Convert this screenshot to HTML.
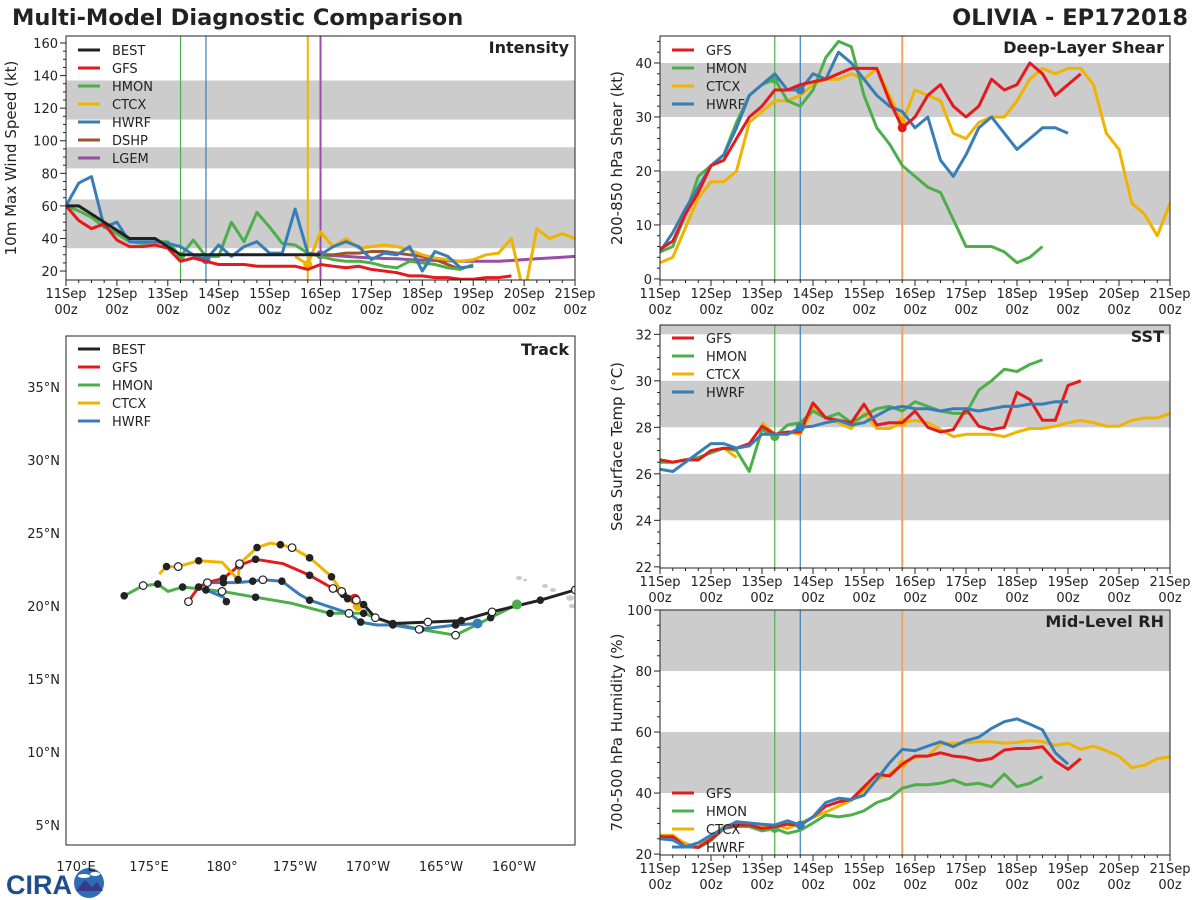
<!DOCTYPE html>
<html><head><meta charset="utf-8">
<style>
html,body{margin:0;padding:0;background:#fff;}
svg{display:block;font-family:"DejaVu Sans","Liberation Sans",sans-serif;}
</style></head>
<body>
<svg id="chart" width="1200" height="900" viewBox="0 0 1200 900" xmlns="http://www.w3.org/2000/svg">
<text x="12" y="25" font-size="22.5" font-weight="bold" fill="#222">Multi-Model Diagnostic Comparison</text>
<text x="1188" y="25" font-size="22.5" font-weight="bold" fill="#222" text-anchor="end">OLIVIA - EP172018</text>
<g>
<text x="6" y="894" font-size="27" font-weight="bold" fill="#1f4e8c" font-family="Liberation Sans, sans-serif">CIRA</text>
<circle cx="89" cy="883" r="15" fill="#2d6db5"></circle>
<path d="M76 891 L85 880 L92 887 L97 882 L103 891 Z" fill="#3a3a8a"></path>
<ellipse cx="84" cy="876" rx="6" ry="2" fill="#fff"></ellipse>
<ellipse cx="95" cy="874" rx="5" ry="2" fill="#fff"></ellipse>
</g>
</svg>
<script>
// ---------- shared ----------
const dayLabels = ['11Sep','12Sep','13Sep','14Sep','15Sep','16Sep','17Sep','18Sep','19Sep','20Sep','21Sep'];
const initTimes = [2.25, 2.75, 4.75, 5.0]; // HMON, HWRF, CTCX, LGEM init (days)

// ---------- intensity (kt), 6-hourly ----------
const intBestStart = 0;
const intBest = [60,60,55,50,45,40,40,40,35,30,30,30,30,30,30,30,30,30,30,30,30];
const intGfsStart = 0;
const intGfs = [60,51,46,49,39,35,35,36,34,26,28,26,24,24,24,23,23,23,23,21,24,23,22,23,21,20,19,17,17,16,16,15,15,16,16,17];
const intHmonStart = 0;
const intHmon = [60,57,53,47,43,38,37,38,38,29,39,29,29,50,38,56,47,37,36,31,29,27,26,26,25,23,22,26,25,24,22,21,24];
const intHwrfStart = 0;
const intHwrf = [60,74,78,47,50,38,38,38,37,35,30,27,36,29,35,38,31,31,58,31,30,35,38,35,27,31,30,35,20,32,29,22,23];
const intCtcxStart = 18;
const intCtcx = [29,24,44,35,40,34,35,36,35,33,30,28,27,26,27,30,31,40,5,46,40,43,40];
const intDshpStart = 20;
const intDshp = [30,30,31,31,32,32,31,30,29,27,24,21];
const intLgemStart = 20;
const intLgem = [30,29.5,29,28.5,28,27.7,27.5,27,26.8,26.5,26.3,26,26,26,26,26.5,27,27.5,28,28.5,29];

// ---------- shear (kt) ----------
const shGfs = [5.5,7,12,16,21,22,26,30,32,35,35,36,36.5,37,38,39,39,39,33,28,30,34,36,32,30,32,37,35,36,40,38,34,36,38];
const shHmon = [5,6,12,19,21,23,29,34,36,37,33,32,35,41,44,43,34,28,25,21,19,17,16,11,6,6,6,5,3,4,6];
const shCtcx = [3,4,9.5,15,18,18,20,29,31,33,33,34,36,37,37,38,37,39,34,29,35,34,33,27,26,29,30,30,33,37,39,38,39,39,36,27,24,14,12,8,14];
const shHwrf = [5,8.6,13,17,21,23,28,34,36,38,35,35,38,37,42,40,37,34,32,31,28,30,22,19,23,28,30,27,24,26,28,28,27];

// ---------- SST (C) ----------
const sstGfs = [26.6,26.5,26.6,26.6,27.0,27.1,27.1,27.3,28.05,27.7,27.8,27.8,29.05,28.4,28.3,28.2,29.0,28.1,28.2,28.2,28.7,28.0,27.8,27.9,28.8,28.05,27.9,28.0,29.5,29.2,28.3,28.3,29.8,30.0];
const sstHmon = [26.5,26.5,26.6,26.7,26.9,27.1,27.0,26.1,27.9,27.6,28.1,28.2,28.7,28.4,28.6,28.2,28.5,28.8,28.9,28.7,29.1,28.9,28.7,28.6,28.6,29.6,30.0,30.5,30.4,30.7,30.9];
const sstCtcx = [26.6,26.5,26.6,26.6,27.0,27.1,26.7,null,28.2,27.7,27.8,27.7,28.8,28.4,28.2,27.95,28.6,27.95,27.95,28.2,28.3,28.2,27.9,27.6,27.7,27.7,27.7,27.6,27.8,27.95,27.95,28.05,28.2,28.3,28.2,28.05,28.05,28.3,28.4,28.4,28.6];
const sstHwrf = [26.2,26.1,26.5,26.9,27.3,27.3,27.1,27.2,27.7,27.7,27.7,28.0,28.05,28.2,28.3,28.1,28.2,28.5,28.8,28.9,28.8,28.8,28.7,28.8,28.8,28.7,28.8,28.9,28.9,29.0,29.0,29.1,29.1];

// ---------- RH (%) ----------
const rhGfs = [25.7,25.7,22.4,22.2,24.9,28.4,29.5,29.5,28.4,29,29.8,29.5,32.2,35.7,37.1,37.9,42,46.2,45.6,49.5,52.1,52.1,53.2,52.1,51.7,50.6,51.3,54.1,54.6,54.6,55.2,50.5,47.8,51.3];
const rhHmon = [25.7,25.7,23.5,22.1,24.4,28.4,29.1,29,27.6,28.4,26.8,27.8,30.2,32.8,32.2,32.8,34.2,36.9,38.3,41.6,42.7,42.7,43.2,44.3,42.7,43.2,42.1,46.2,42.1,43.2,45.4];
const rhCtcx = [26.2,26.2,23.3,22.4,25.7,29,30.2,29.5,29.1,29.5,28.4,30.2,32,33.8,35.7,37.6,40.9,44.3,46.2,49.5,51.7,52.1,56.1,56.3,56.5,56.8,56.8,56.3,56.6,57.2,56.8,55.7,56.3,54.3,55.4,53.9,52.1,48.3,49.1,51.3,51.9];
const rhHwrf = [25,24.6,22.4,23.7,26.2,28.4,30.6,30.2,29.8,29.5,30.9,29.5,32.2,36.9,38.3,37.9,39.3,44.5,49.9,54.3,53.9,55.4,56.8,55.2,57.2,58.3,61.2,63.4,64.3,62.6,60.7,53.2,49.5];

// ---------- track (lon 0-360 E, lat N) ----------
const trBestLon = [204.2,201.8,198.5,196.4,194.1,191.7,190.5,189.7,189.2];
const trBestLat = [21.1,20.4,19.6,19.0,18.9,18.8,19.2,20.1,20.4];
const trGfsLon = [189.1,188.3,187.6,186.0,184.2,182.3,181.2,180.1,179.0,178.4,177.7];
const trGfsLat = [20.5,20.8,21.2,22.1,22.9,23.2,22.8,21.9,21.6,21.3,20.3];
const trCtcxLon = [189.3,188.6,188.2,187.5,186.6,186.0,184.8,184.0,183.3,182.4,181.2,181.1,180.0,178.4,177.0,176.2,175.7];
const trCtcxLat = [20.0,20.5,21.0,22.0,22.8,23.3,24.0,24.2,24.3,24.0,22.9,21.8,23.0,23.1,22.7,22.7,22.2];
const trHwrfLon = [197.5,196.0,193.5,191.7,190.6,189.5,188.7,186.0,185.3,184.1,182.8,182.1,181.0,180.1,179.0,178.9,180.1,180.3];
const trHwrfLat = [18.8,18.7,18.4,18.7,18.7,18.9,19.5,20.4,20.8,21.7,21.8,21.7,21.6,21.6,21.6,21.1,20.6,20.3];
const trHmonLon = [200.2,198.4,196.0,193.6,191.7,189.7,188.7,187.4,184.7,182.3,180.0,177.3,176.3,175.6,174.6,173.3];
const trHmonLat = [20.1,19.2,18.0,18.4,18.8,19.5,19.5,19.5,20.2,20.6,21.0,21.3,21.0,21.5,21.4,20.7];

const C = {best:'#222222', gfs:'#e41a1c', hmon:'#4daf4a', ctcx:'#f0b400', hwrf:'#377eb8', dshp:'#a0522d', lgem:'#984ea3'};
const svg = document.getElementById('chart');
const NS = 'http://www.w3.org/2000/svg';
function mk(tag, attrs, parent){
  const e = document.createElementNS(NS, tag);
  for (const k in attrs) e.setAttribute(k, attrs[k]);
  (parent||svg).appendChild(e);
  return e;
}
function txt(str, attrs, parent){ const t = mk('text', attrs, parent); t.textContent = str; return t; }

function timePanel(p){
  const g = mk('g', {});
  
  
  const X = d => p.x0 + (d/10)*(p.x1-p.x0);
  const Y = v => p.y1 - (v-p.vmin)/(p.vmax-p.vmin)*(p.y1-p.y0);
  const clip = mk('clipPath', {id:'clip-'+p.name}, g);
  mk('rect', {x:p.x0, y:p.y0, width:p.x1-p.x0, height:p.y1-p.y0}, clip);
  const inner = mk('g', {'clip-path':'url(#clip-'+p.name+')'}, g);
  p.bands.forEach(b => {
    const r = mk('rect', {x:p.x0, y:Y(b[1]), width:p.x1-p.x0, height:Y(b[0])-Y(b[1]), fill:'#cccccc'}, inner);
    
    
  });
  p.vlines.forEach(v => {
    const l = mk('line', {x1:X(v[0]), x2:X(v[0]), y1:p.y0, y2:p.y1, stroke:v[1], 'stroke-width':v[2]||1.2}, inner);
    
    
  });
  p.series.forEach(s => {
    let d = '', pen = false;
    s.vals.forEach((v,i) => {
      if (v === null) { pen = false; return; }
      d += (pen ? 'L' : 'M') + X((s.start+i)*0.25).toFixed(1) + ' ' + Y(v).toFixed(1) + ' ';
      pen = true;
    });
    const path = mk('path', {d:d, fill:'none', stroke:s.color, 'stroke-width':3, 'stroke-linejoin':'round'}, inner);
    
    
    if (s.dot !== undefined) {
      const idx = Math.round(s.dot/0.25) - s.start;
      const c = mk('circle', {cx:X(s.dot), cy:Y(s.vals[idx]), r:4.5, fill:s.color}, inner);
      
      
    }
  });
  mk('rect', {x:p.x0, y:p.y0, width:p.x1-p.x0, height:p.y1-p.y0, fill:'none', stroke:'#222', 'stroke-width':1}, g);
  for (let i = 0; i <= 40; i++) {
    const x = X(i*0.25), major = i % 4 === 0;
    mk('line', {x1:x, x2:x, y1:p.y1, y2:p.y1 + (major?6:3), stroke:'#222', 'stroke-width':1}, g);
    if (major) {
      const t = txt(dayLabels[i/4], {x:x, y:p.y1+18, 'font-size':13, 'text-anchor':'middle', fill:'#222'}, g);
      
      
      const t2 = txt('00z', {x:x, y:p.y1+34, 'font-size':13, 'text-anchor':'middle', fill:'#222'}, g);
      
      
    }
  }
  for (let v = p.tmin; v <= p.vmax + 1e-6; v += p.minor) {
    if (v < p.vmin) continue;
    const y = Y(v);
    const major = Math.abs((v - p.tmin) / p.major - Math.round((v - p.tmin) / p.major)) < 1e-6;
    mk('line', {x1:p.x0 - (major?6:3), x2:p.x0, y1:y, y2:y, stroke:'#222', 'stroke-width':1}, g);
    if (major) {
      const t = txt(String(Math.round(v)), {x:p.x0-8, y:y+5, 'font-size':13, 'text-anchor':'end', fill:'#222'}, g);
      
      
    }
  }
  const yt = txt(p.ytitle, {x:0, y:0, 'font-size':15, 'text-anchor':'middle', fill:'#222', transform:'translate(' + p.ytx + ',' + ((p.y0+p.y1)/2) + ') rotate(-90)'}, g);
  
  
  const pt = txt(p.title, {x:p.x1-6, y:p.y0+17, 'font-size':16, 'font-weight':'bold', 'text-anchor':'end', fill:'#222'}, g);
  
  
  p.legend.forEach((s, i) => {
    const y = p.ly + i*18;
    const l = mk('line', {x1:p.x0+12, x2:p.x0+34, y1:y, y2:y, stroke:s.color, 'stroke-width':3}, g);
    
    
    const t = txt(s.label, {x:p.x0+46, y:y+5, 'font-size':13, fill:'#222'}, g);
    
    
  });
}

const lg4 = [{label:'GFS',color:C.gfs},{label:'HMON',color:C.hmon},{label:'CTCX',color:C.ctcx},{label:'HWRF',color:C.hwrf}];
const rv = [[2.25,C.hmon],[2.75,C.hwrf],[4.75,'#f4a460',2]];

timePanel({name:'intensity-panel', x0:66, x1:575, y0:36, y1:280, vmin:14.5, vmax:164.3, tmin:20, major:20, minor:5,
  bands:[[34,64],[83,96],[113,137]],
  vlines:[[2.25,C.hmon],[2.75,C.hwrf],[4.75,C.ctcx,2],[5.0,C.lgem,2]],
  series:[
    {id:'lgem', color:C.lgem, start:intLgemStart, vals:intLgem, dot:5.0},
    {id:'dshp', color:C.dshp, start:intDshpStart, vals:intDshp},
    {id:'ctcx', color:C.ctcx, start:intCtcxStart, vals:intCtcx, dot:4.75},
    {id:'hmon', color:C.hmon, start:intHmonStart, vals:intHmon, dot:2.25},
    {id:'hwrf', color:C.hwrf, start:intHwrfStart, vals:intHwrf, dot:2.75},
    {id:'gfs', color:C.gfs, start:intGfsStart, vals:intGfs},
    {id:'best', color:C.best, start:intBestStart, vals:intBest}],
  ytitle:'10m Max Wind Speed (kt)', ytx:16, title:'Intensity', ly:50,
  legend:[{label:'BEST',color:C.best},{label:'GFS',color:C.gfs},{label:'HMON',color:C.hmon},{label:'CTCX',color:C.ctcx},{label:'HWRF',color:C.hwrf},{label:'DSHP',color:C.dshp},{label:'LGEM',color:C.lgem}]
});

timePanel({name:'shear-panel', x0:660, x1:1170, y0:36, y1:280, vmin:-0.2, vmax:45, tmin:0, major:10, minor:2,
  bands:[[10,20],[30,40]], vlines:rv,
  series:[
    {id:'ctcx', color:C.ctcx, start:0, vals:shCtcx, dot:4.75},
    {id:'hmon', color:C.hmon, start:0, vals:shHmon, dot:2.25},
    {id:'hwrf', color:C.hwrf, start:0, vals:shHwrf, dot:2.75},
    {id:'gfs', color:C.gfs, start:0, vals:shGfs, dot:4.75}],
  ytitle:'200-850 hPa Shear (kt)', ytx:622, title:'Deep-Layer Shear', ly:50, legend:lg4
});

timePanel({name:'sst-panel', x0:660, x1:1170, y0:325, y1:568, vmin:21.95, vmax:32.4, tmin:22, major:2, minor:0.5,
  bands:[[24,26],[28,30],[32,34]], vlines:rv,
  series:[
    {id:'ctcx', color:C.ctcx, start:0, vals:sstCtcx, dot:4.75},
    {id:'hmon', color:C.hmon, start:0, vals:sstHmon, dot:2.25},
    {id:'gfs', color:C.gfs, start:0, vals:sstGfs},
    {id:'hwrf', color:C.hwrf, start:0, vals:sstHwrf, dot:2.75}],
  ytitle:'Sea Surface Temp (°C)', ytx:622, title:'SST', ly:338, legend:lg4
});

timePanel({name:'rh-panel', x0:660, x1:1170, y0:610, y1:855, vmin:19.7, vmax:100, tmin:20, major:20, minor:5,
  bands:[[40,60],[80,100]], vlines:rv,
  series:[
    {id:'hmon', color:C.hmon, start:0, vals:rhHmon, dot:2.25},
    {id:'ctcx', color:C.ctcx, start:0, vals:rhCtcx, dot:4.75},
    {id:'gfs', color:C.gfs, start:0, vals:rhGfs},
    {id:'hwrf', color:C.hwrf, start:0, vals:rhHwrf, dot:2.75}],
  ytitle:'700-500 hPa Humidity (%)', ytx:622, title:'Mid-Level RH', ly:793, legend:lg4
});

// ---------- track panel ----------
(function(){
  const x0=66, x1=575, y0=336, y1=845;
  const LX = lon => 222 + (lon-180)*14.6;
  const LY = lat => 606 - (lat-20)*14.6;
  const g = mk('g', {});
  
  
  const clip = mk('clipPath', {id:'clip-track'}, g);
  mk('rect', {x:x0, y:y0, width:x1-x0, height:y1-y0}, clip);
  const inner = mk('g', {'clip-path':'url(#clip-track)'}, g);
  [[519,578,3],[525,580,2],[545,586,3],[553,590,3],[570,598,4],[572,606,3]].forEach(a => {
    const e = mk('ellipse', {cx:a[0], cy:a[1], rx:a[2], ry:a[2]*0.7, fill:'#cccccc'}, inner);
    
    
  });
  const tracks = [
    {id:'hmon', color:C.hmon, lon:trHmonLon, lat:trHmonLat},
    {id:'hwrf', color:C.hwrf, lon:trHwrfLon, lat:trHwrfLat},
    {id:'gfs', color:C.gfs, lon:trGfsLon, lat:trGfsLat},
    {id:'ctcx', color:C.ctcx, lon:trCtcxLon, lat:trCtcxLat},
    {id:'best', color:C.best, lon:trBestLon, lat:trBestLat}];
  tracks.forEach(t => {
    const d = t.lon.map((lo,i) => (i?'L':'M') + LX(lo).toFixed(1) + ' ' + LY(t.lat[i]).toFixed(1)).join(' ');
    const p = mk('path', {d:d, fill:'none', stroke:t.color, 'stroke-width':3, 'stroke-linejoin':'round'}, inner);
    
    
  });
  tracks.forEach(t => {
    t.lon.forEach((lo,i) => {
      let c;
      if (i === 0 && t.id !== 'best') {
        c = mk('circle', {cx:LX(lo), cy:LY(t.lat[i]), r:5, fill:t.color}, inner);
      } else if (i % 2 === 1) {
        c = mk('circle', {cx:LX(lo), cy:LY(t.lat[i]), r:3.8, fill:'#222'}, inner);
      } else if (i % 4 === 2 || t.id === 'best') {
        c = mk('circle', {cx:LX(lo), cy:LY(t.lat[i]), r:3.8, fill:'#fff', stroke:'#222', 'stroke-width':1.2}, inner);
      } else return;
      
      
    });
  });
  mk('rect', {x:x0, y:y0, width:x1-x0, height:y1-y0, fill:'none', stroke:'#222', 'stroke-width':1}, g);
  const lonTicks = [170,175,180,185,190,195,200];
  const lonLabels = ['170°E','175°E','180°','175°W','170°W','165°W','160°W'];
  lonTicks.forEach((lo,i) => {
    const t = txt(lonLabels[i], {x:LX(lo), y:871, 'font-size':13, 'text-anchor':'middle', fill:'#222'}, g);
    
    
  });
  const latTicks = [5,10,15,20,25,30,35];
  latTicks.forEach(la => {
    const t = txt(la + '°N', {x:60, y:LY(la)+5, 'font-size':13, 'text-anchor':'end', fill:'#222'}, g);
    
    
  });
  const pt = txt('Track', {x:x1-6, y:y0+19, 'font-size':16, 'font-weight':'bold', 'text-anchor':'end', fill:'#222'}, g);
  
  
  [{label:'BEST',color:C.best},{label:'GFS',color:C.gfs},{label:'HMON',color:C.hmon},{label:'CTCX',color:C.ctcx},{label:'HWRF',color:C.hwrf}].forEach((s,i) => {
    const y = 349 + i*18;
    const l = mk('line', {x1:78, x2:100, y1:y, y2:y, stroke:s.color, 'stroke-width':3}, g);
    
    
    const t = txt(s.label, {x:112, y:y+5, 'font-size':13, fill:'#222'}, g);
    
    
  });
})();
</script>
</body></html>
